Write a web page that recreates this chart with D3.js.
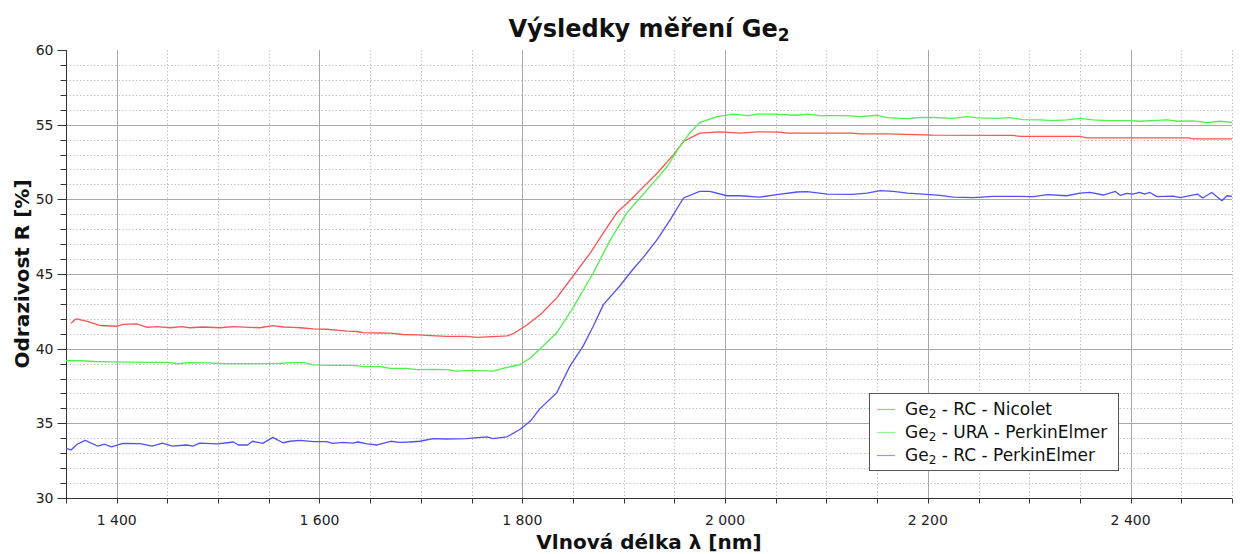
<!DOCTYPE html>
<html>
<head>
    <meta charset="utf-8">
    <title>Výsledky měření Ge2</title>
    <script src="https://d3js.org/d3.v7.min.js"></script>
    <style>
        body { margin: 0; background: #fff; }
        svg { display: block; font-family: "DejaVu Sans", Verdana, sans-serif; }
        .tick-label { font-size: 14px; fill: #222; }
        .grid-major { stroke: #a8a8a8; stroke-width: 1; }
        .grid-minor { stroke: #c4c4c4; stroke-width: 1; stroke-dasharray: 1.5 2; }
        .axis-line { stroke: #333; stroke-width: 1; }
        .series { fill: none; stroke-width: 1.3; stroke-linejoin: round; }
    </style>
</head>
<body>
<svg width="1240" height="554"></svg>

<script>
    // Ge2 - RC - Nicolet
    var nicoletWl = [1355, 1360, 1371, 1384, 1400, 1406, 1420, 1430, 1440, 1453, 1464, 1472, 1485, 1502, 1515, 1531, 1541, 1554, 1564, 1574,
        1581, 1594, 1607, 1617, 1627, 1637, 1643, 1660, 1670, 1682, 1696, 1710, 1725, 1745, 1755, 1771, 1785, 1791, 1805, 1819,
        1834, 1850, 1867, 1880, 1893, 1907, 1919, 1933, 1949, 1959, 1975, 1995, 2015, 2032, 2054, 2061, 2126, 2133, 2160, 2205,
        2284, 2291, 2350, 2357, 2456, 2462, 2500];
    var nicoletR = [41.7, 42.0, 41.82, 41.55, 41.5, 41.62, 41.66, 41.43, 41.48, 41.4, 41.48, 41.4, 41.45, 41.4, 41.48, 41.43, 41.4, 41.55, 41.45, 41.43,
        41.4, 41.32, 41.3, 41.24, 41.17, 41.15, 41.07, 41.05, 41.04, 40.95, 40.92, 40.87, 40.82, 40.82, 40.75, 40.8, 40.85, 41.0, 41.6, 42.35,
        43.4, 44.85, 46.4, 47.75, 49.08, 49.97, 50.8, 51.75, 52.98, 53.87, 54.43, 54.52, 54.43, 54.52, 54.5, 54.43, 54.43, 54.39, 54.39, 54.3,
        54.28, 54.21, 54.21, 54.12, 54.12, 54.05, 54.05];

    // Ge2 - URA - PerkinElmer
    var uraWl = [1350, 1365, 1378, 1395, 1410, 1430, 1450, 1460, 1472, 1490, 1505, 1540, 1560, 1575, 1585, 1594, 1608, 1632, 1645, 1660,
        1670, 1686, 1696, 1712, 1725, 1735, 1750, 1771, 1781, 1798, 1808, 1817, 1834, 1850, 1870, 1887, 1903, 1916, 1929, 1943,
        1953, 1965, 1975, 1992, 2008, 2022, 2032, 2047, 2071, 2081, 2094, 2120, 2133, 2150, 2160, 2180, 2192, 2205, 2225, 2239,
        2249, 2268, 2281, 2294, 2311, 2323, 2337, 2350, 2363, 2377, 2399, 2409, 2436, 2446, 2462, 2475, 2488, 2500];
    var uraR = [39.19, 39.19, 39.14, 39.12, 39.1, 39.08, 39.08, 38.99, 39.07, 39.05, 39.0, 39.0, 39.02, 39.07, 39.07, 38.92, 38.88, 38.88, 38.8, 38.8,
        38.68, 38.68, 38.59, 38.61, 38.59, 38.5, 38.55, 38.5, 38.68, 38.94, 39.38, 39.95, 41.06, 42.73, 45.07, 47.3, 49.08, 50.09, 51.09, 52.2,
        53.3, 54.43, 55.14, 55.54, 55.7, 55.6, 55.7, 55.7, 55.63, 55.7, 55.6, 55.6, 55.54, 55.63, 55.47, 55.4, 55.48, 55.48, 55.42, 55.54,
        55.45, 55.42, 55.47, 55.34, 55.32, 55.27, 55.32, 55.42, 55.32, 55.27, 55.27, 55.23, 55.32, 55.23, 55.25, 55.14, 55.23, 55.16];

    // Ge2 - RC - PerkinElmer
    var rcPeWl = [1350, 1355, 1361, 1369, 1381, 1388, 1395, 1406, 1423, 1435, 1445, 1455, 1469, 1475, 1482, 1499, 1509, 1515, 1520, 1529,
        1534, 1544, 1554, 1564, 1571, 1581, 1594, 1607, 1613, 1623, 1633, 1638, 1647, 1657, 1670, 1679, 1689, 1699, 1712, 1725,
        1745, 1765, 1771, 1785, 1798, 1808, 1817, 1834, 1847, 1860, 1870, 1880, 1896, 1909, 1919, 1933, 1946, 1959, 1975, 1985,
        2002, 2015, 2034, 2051, 2071, 2081, 2101, 2126, 2140, 2153, 2166, 2180, 2195, 2212, 2225, 2245, 2264, 2284, 2304, 2318,
        2337, 2350, 2360, 2373, 2385, 2390, 2396, 2402, 2409, 2414, 2419, 2426, 2442, 2449, 2466, 2471, 2480, 2490, 2495, 2500];
    var rcPeR = [33.33, 33.22, 33.6, 33.86, 33.48, 33.6, 33.42, 33.66, 33.64, 33.48, 33.68, 33.48, 33.55, 33.48, 33.68, 33.62, 33.7, 33.75, 33.55, 33.55,
        33.8, 33.66, 34.06, 33.7, 33.8, 33.86, 33.77, 33.77, 33.66, 33.73, 33.68, 33.75, 33.62, 33.55, 33.8, 33.73, 33.75, 33.8, 33.98, 33.95,
        33.97, 34.1, 33.98, 34.1, 34.6, 35.15, 35.95, 37.05, 38.83, 40.17, 41.5, 42.95, 44.18, 45.3, 46.08, 47.3, 48.64, 50.09, 50.53, 50.53,
        50.24, 50.24, 50.15, 50.31, 50.49, 50.51, 50.35, 50.33, 50.42, 50.58, 50.53, 50.42, 50.35, 50.26, 50.15, 50.11, 50.2, 50.2, 50.18, 50.31,
        50.24, 50.42, 50.46, 50.29, 50.53, 50.26, 50.4, 50.35, 50.46, 50.35, 50.46, 50.18, 50.22, 50.11, 50.35, 50.09, 50.46, 49.91, 50.24, 50.2];

    var seriesNames = ["RC - Nicolet", "URA - PerkinElmer", "RC - PerkinElmer"];
    var seriesColors = ["#ff5252", "#4ff04f", "#5050ff"];

    var xTicks = [1400, 1600, 1800, 2000, 2200, 2400];
    var yTicks = [30, 35, 40, 45, 50, 55, 60];

    var series = [
        {name: seriesNames[0], color: seriesColors[0], pts: d3.zip(nicoletWl, nicoletR)},
        {name: seriesNames[1], color: seriesColors[1], pts: d3.zip(uraWl, uraR)},
        {name: seriesNames[2], color: seriesColors[2], pts: d3.zip(rcPeWl, rcPeR)}
    ];

    var svg = d3.select("svg"),
            pLeft = 66, pRight = 1232, pTop = 50, pBottom = 498;

    var x = d3.scaleLinear().domain([1350, 2500]).range([pLeft, pRight]);
    var y = d3.scaleLinear().domain([30, 60]).range([pBottom, pTop]);

    var fmt = function (v) {
        return d3.format(",")(v).replace(",", " ");
    };
    var px = function (v) { return Math.round(v) + 0.5; };

    // minor grid
    var xMinor = d3.range(1350, 2501, 50).filter(function (v) { return v % 200 !== 0; });
    var yMinor = d3.range(30, 61, 1).filter(function (v) { return v % 5 !== 0; });

    var grid = svg.append("g");
    grid.selectAll(".xm").data(xMinor).enter().append("line")
            .attr("class", "grid-minor")
            .attr("x1", function (d) { return px(x(d)); })
            .attr("x2", function (d) { return px(x(d)); })
            .attr("y1", pTop).attr("y2", pBottom);
    grid.selectAll(".ym").data(yMinor).enter().append("line")
            .attr("class", "grid-minor")
            .attr("y1", function (d) { return px(y(d)); })
            .attr("y2", function (d) { return px(y(d)); })
            .attr("x1", pLeft).attr("x2", pRight);

    // major grid
    grid.selectAll(".xM").data(xTicks).enter().append("line")
            .attr("class", "grid-major")
            .attr("x1", function (d) { return px(x(d)); })
            .attr("x2", function (d) { return px(x(d)); })
            .attr("y1", pTop).attr("y2", pBottom);
    grid.selectAll(".yM").data(yTicks.filter(function (v) { return v > 30 && v < 60; })).enter().append("line")
            .attr("class", "grid-major")
            .attr("y1", function (d) { return px(y(d)); })
            .attr("y2", function (d) { return px(y(d)); })
            .attr("x1", pLeft).attr("x2", pRight);

    // axes
    var xAxis = svg.append("g")
            .attr("transform", "translate(0," + (pBottom + 0.5) + ")");
    xAxis.append("line").attr("class", "axis-line").attr("x1", pLeft).attr("x2", pRight);
    xAxis.selectAll(".t").data(d3.range(1350, 2501, 50)).enter().append("line")
            .attr("class", "axis-line")
            .attr("x1", function (d) { return px(x(d)); })
            .attr("x2", function (d) { return px(x(d)); })
            .attr("y1", 0).attr("y2", 5);
    xAxis.selectAll("text").data(xTicks).enter().append("text")
            .attr("class", "tick-label")
            .attr("x", function (d) { return x(d); })
            .attr("y", 26)
            .attr("text-anchor", "middle")
            .text(fmt);

    var yAxis = svg.append("g")
            .attr("transform", "translate(" + (pLeft + 0.5) + ",0)");
    yAxis.append("line").attr("class", "axis-line").attr("y1", pTop).attr("y2", pBottom);
    yAxis.selectAll(".t").data(d3.range(30, 61, 1)).enter().append("line")
            .attr("class", "axis-line")
            .attr("y1", function (d) { return px(y(d)); })
            .attr("y2", function (d) { return px(y(d)); })
            .attr("x1", function (d) { return d % 5 === 0 ? -9 : -6; })
            .attr("x2", 0);
    yAxis.selectAll("text").data(yTicks).enter().append("text")
            .attr("class", "tick-label")
            .attr("x", -13)
            .attr("y", function (d) { return y(d); })
            .attr("dy", "0.35em")
            .attr("text-anchor", "end")
            .text(function (d) { return d; });

    // series
    var line = d3.line()
            .x(function (d) { return x(d[0]); })
            .y(function (d) { return y(d[1]); });

    svg.append("g").selectAll("path").data(series).enter().append("path")
            .attr("class", "series")
            .attr("d", function (d) { return line(d.pts); })
            .style("stroke", function (d) { return d.color; });

    // title + axis labels
    var title = svg.append("text")
            .attr("x", (pLeft + pRight) / 2)
            .attr("y", 37)
            .attr("text-anchor", "middle")
            .style("font-size", "24px")
            .style("font-weight", "bold")
            .style("fill", "#111");
    title.append("tspan").text("Výsledky měření Ge");
    title.append("tspan").attr("dy", 4).style("font-size", "17px").text("2");

    svg.append("text")
            .attr("transform", "translate(29," + ((pTop + pBottom) / 2) + ") rotate(-90)")
            .attr("text-anchor", "middle")
            .style("font-size", "20px")
            .style("font-weight", "bold")
            .style("fill", "#111")
            .text("Odrazivost R [%]");

    svg.append("text")
            .attr("x", (pLeft + pRight) / 2)
            .attr("y", 549)
            .attr("text-anchor", "middle")
            .style("font-size", "20px")
            .style("font-weight", "bold")
            .style("fill", "#111")
            .text("Vlnová délka λ [nm]");

    // legend
    var legend = svg.append("g").attr("transform", "translate(869,393)");
    legend.append("rect")
            .attr("x", 0.5).attr("y", 0.5)
            .attr("width", 249).attr("height", 77)
            .style("fill", "#fff")
            .style("stroke", "#555");
    var item = legend.selectAll(".item").data(series).enter().append("g")
            .attr("transform", function (d, i) { return "translate(0," + (16 + i * 23) + ")"; });
    item.append("line")
            .attr("x1", 8).attr("x2", 26).attr("y1", 0.5).attr("y2", 0.5)
            .style("stroke", function (d) { return d.color; })
            .style("stroke-opacity", 0.6)
            .style("stroke-width", 1.2);
    var lt = item.append("text")
            .attr("x", 36)
            .attr("y", 0)
            .attr("dy", "0.35em")
            .style("font-size", "17px")
            .style("fill", "#111");
    lt.append("tspan").text("Ge");
    lt.append("tspan").attr("dy", 3).style("font-size", "12px").text("2");
    lt.append("tspan").attr("dy", -3).text(function (d) { return " - " + d.name; });
</script>
</body>
</html>
